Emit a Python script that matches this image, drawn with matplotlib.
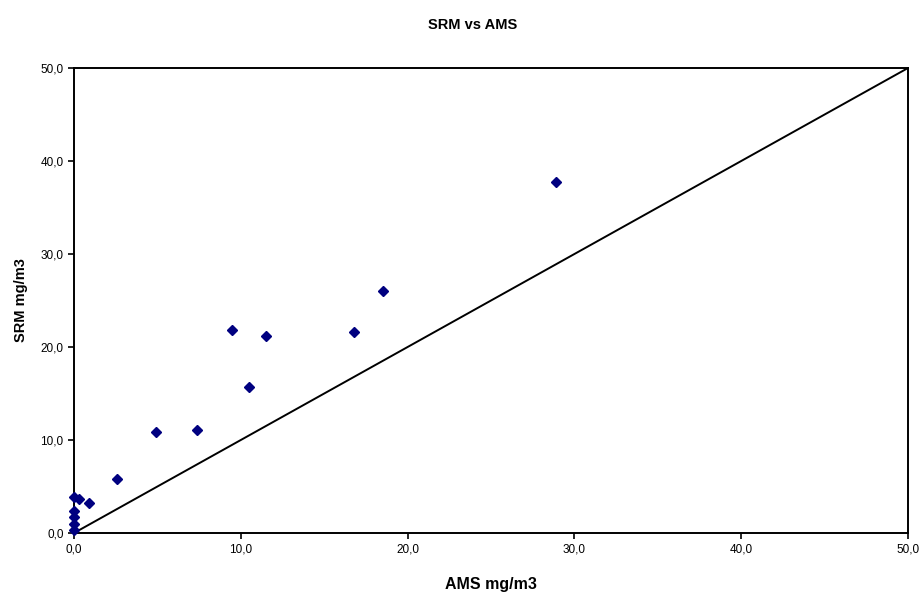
import matplotlib.pyplot as plt
from matplotlib.ticker import FuncFormatter
import numpy as np

plt.rcParams['font.family'] = ['Liberation Sans', 'DejaVu Sans']

# AMS vs SRM readings (mg/m3)
ams = [0.0, 0.0, 0.0, 0.0, 0.0, 0.3, 0.9, 2.6, 4.9, 7.4, 9.5, 10.5, 11.5, 16.8, 18.5, 28.9]
srm = [0.3, 1.0, 1.7, 2.4, 3.9, 3.7, 3.2, 5.8, 10.9, 11.1, 21.8, 15.7, 21.2, 21.6, 26.0, 37.7]
ticks = [0, 10, 20, 30, 40, 50]
ref_line = [0, 50]

fig = plt.figure(figsize=(9.24, 5.96), dpi=100)
ax = fig.add_axes([0.0801, 0.1057, 0.9026, 0.7802])

ax.plot(ref_line, ref_line, color='black', linewidth=1.4, zorder=2)
ax.plot(ams, srm, linestyle='none', marker='D', markersize=5,
        color='#000080', clip_on=False, zorder=3)

ax.set_xlim(0, 50)
ax.set_ylim(0, 50)
ax.set_xticks(ticks)
ax.set_yticks(ticks)
fmt = FuncFormatter(lambda v, p: f"{v:.1f}".replace('.', ','))
ax.xaxis.set_major_formatter(fmt)
ax.yaxis.set_major_formatter(fmt)
ax.tick_params(direction='out', length=4, width=1.2, labelsize=8.5, color='black')

for spine in ax.spines.values():
    spine.set_linewidth(1.4)

fig.text(473 / 924, 1 - 25 / 596, 'SRM vs AMS', fontsize=10.5, fontweight='bold',
         ha='center', va='center')
fig.text(491 / 924, 1 - 584 / 596, 'AMS mg/m3', fontsize=11.5, fontweight='bold',
         ha='center', va='center')
ax.set_ylabel('SRM mg/m3', fontsize=10.5, fontweight='bold', labelpad=9)

plt.savefig('out.png', dpi=100)
